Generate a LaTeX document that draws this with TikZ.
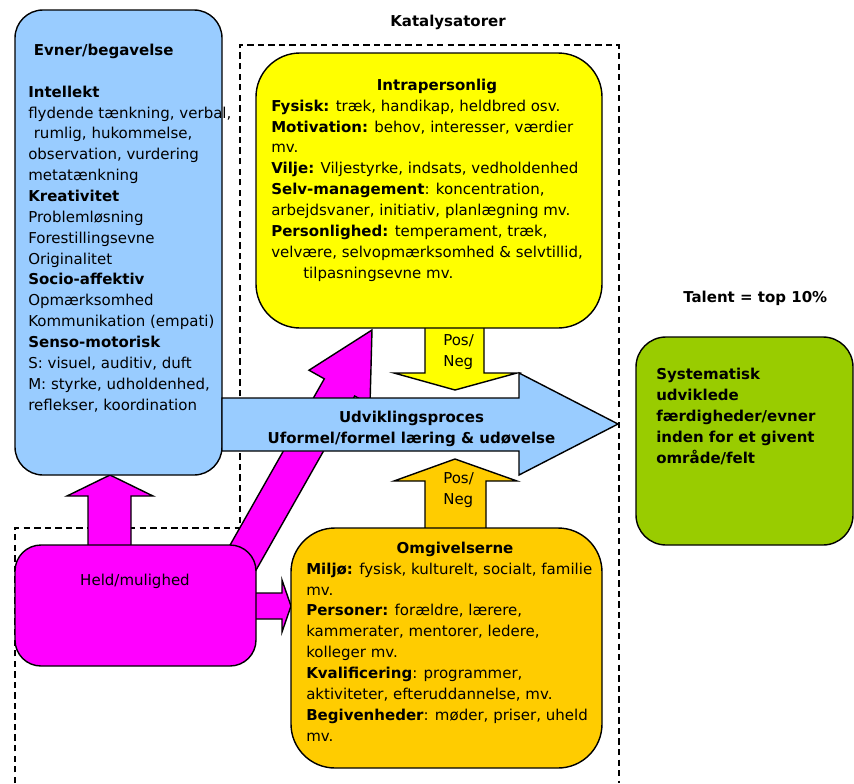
\documentclass[tikz,border=0pt]{standalone}
\usepackage{fontspec}
\setmainfont{DejaVu Sans}
\usepackage{tikz}
\usetikzlibrary{calc}

\definecolor{evnerblue}{HTML}{99CCFF}
\definecolor{intrayellow}{HTML}{FFFF00}
\definecolor{omgorange}{HTML}{FFCC00}
\definecolor{heldmagenta}{HTML}{FF00FF}
\definecolor{talentgreen}{HTML}{99CC00}

\begin{document}
\begin{tikzpicture}[x=0.025cm, y=-0.025cm,
  box/.style={draw=black, line width=1pt},
  blockarrow/.style={draw=black, line width=1pt, line join=miter},
  dashline/.style={draw=black, line width=1pt, dash pattern=on 4.5pt off 3pt},
  txt/.style={font=\fontsize{10.67}{14.83}\selectfont, align=left, anchor=base west, inner sep=0pt},
  ttl/.style={font=\fontsize{10.67}{14.83}\selectfont\bfseries, anchor=base, inner sep=0pt}]
\useasboundingbox (0,0) rectangle (854,783);

% katalysator frame
\draw[dashline] (15,783) -- (15,528) -- (240,528) -- (240,45) -- (619,45) -- (619,783);

% arrows behind the boxes
\filldraw[blockarrow, fill=heldmagenta] (204,591) -- (324.3,378.8) -- (309,370.2) -- (372,330) -- (370,404.7) -- (354.7,396) -- (234,609) -- cycle;
\filldraw[blockarrow, fill=heldmagenta] (88,550) -- (88,496) -- (67,496) -- (110,475) -- (153,496) -- (131,496) -- (131,550) -- cycle;
\filldraw[blockarrow, fill=heldmagenta] (250,593) -- (282,593) -- (282,580) -- (291,606) -- (282,632) -- (282,619) -- (250,619) -- cycle;
\filldraw[blockarrow, fill=intrayellow] (425,320) -- (425,373) -- (394,373) -- (455,390) -- (517,373) -- (484,373) -- (484,320) -- cycle;
\filldraw[blockarrow, fill=omgorange] (425,535) -- (425,481) -- (394,481) -- (455,459) -- (517,481) -- (486,481) -- (486,535) -- cycle;

% boxes
\filldraw[box, fill=evnerblue, rounded corners=0.7cm] (15,10) rectangle (222,475);
\filldraw[box, fill=intrayellow, rounded corners=1.1cm] (256,53) rectangle (602,328);
\filldraw[box, fill=omgorange, rounded corners=1.1cm] (291,528) rectangle (602,768);
\filldraw[box, fill=heldmagenta, rounded corners=0.65cm] (15,545) rectangle (256,666);
\filldraw[box, fill=talentgreen, rounded corners=0.75cm] (636,337) rectangle (853,545);

% udviklingsproces
\filldraw[blockarrow, fill=evnerblue] (222,398) -- (519,398) -- (519,373) -- (618,424) -- (519,475) -- (519,451) -- (222,451) -- cycle;

% texts (multi-line nodes sit on their last baseline)
\node[ttl] (kat) at (448,26) {Katalysatorer};
\node[ttl, anchor=base west] (talent) at (683,302) {Talent = top 10\%};

\node[txt] (evner) at (28,410) {\textbf{\hspace*{0.37em}Evner/begavelse}\\
\mbox{}\\
\textbf{Intellekt}\\
flydende tænkning, verbal,\\
\hspace*{0.37em}rumlig, hukommelse,\\
observation, vurdering\\
metatænkning\\
\textbf{Kreativitet}\\
Problemløsning\\
Forestillingsevne\\
Originalitet\\
\textbf{Socio-affektiv}\\
Opmærksomhed\\
Kommunikation (empati)\\
\textbf{Senso-motorisk}\\
S: visuel, auditiv, duft\\
M: styrke, udholdenhed,\\
reflekser, koordination};

\node[ttl] (intra-ttl) at (437,90) {Intrapersonlig};
\node[txt] (intra) at (271,278) {\textbf{Fysisk:} træk, handikap, heldbred osv.\\
\textbf{Motivation:} behov, interesser, værdier\\
mv.\\
\textbf{Vilje:} Viljestyrke, indsats, vedholdenhed\\
\textbf{Selv-management}: koncentration,\\
arbejdsvaner, initiativ, planlægning mv.\\
\textbf{Personlighed:} temperament, træk,\\
velvære, selvopmærksomhed \& selvtillid,\\
\hspace*{0.8cm}tilpasningsevne mv.};

\node[txt] (pos-top) at (443,366) {Pos/\\Neg};
\node[txt] (pos-bot) at (443,504) {Pos/\\Neg};

\node[ttl, align=center] (udv) at (411.5,443) {Udviklingsproces\\Uformel/formel læring \& udøvelse};

\node[ttl] (omg-ttl) at (455,553) {Omgivelserne};
\node[txt] (omg) at (306,741) {\textbf{Miljø:} fysisk, kulturelt, socialt, familie\\
mv.\\
\textbf{Personer:} forældre, lærere,\\
kammerater, mentorer, ledere,\\
kolleger mv.\\
\textbf{Kvalificering}: programmer,\\
aktiviteter, efteruddannelse, mv.\\
\textbf{Begivenheder}: møder, priser, uheld\\
mv.};

\node[txt, anchor=base] (held) at (135,585) {Held/mulighed};

\node[txt, font=\fontsize{10.67}{14.83}\selectfont\bfseries] (talent-txt) at (656,463) {Systematisk\\
udviklede\\
færdigheder/evner\\
inden for et givent\\
område/felt};

\end{tikzpicture}
\end{document}
